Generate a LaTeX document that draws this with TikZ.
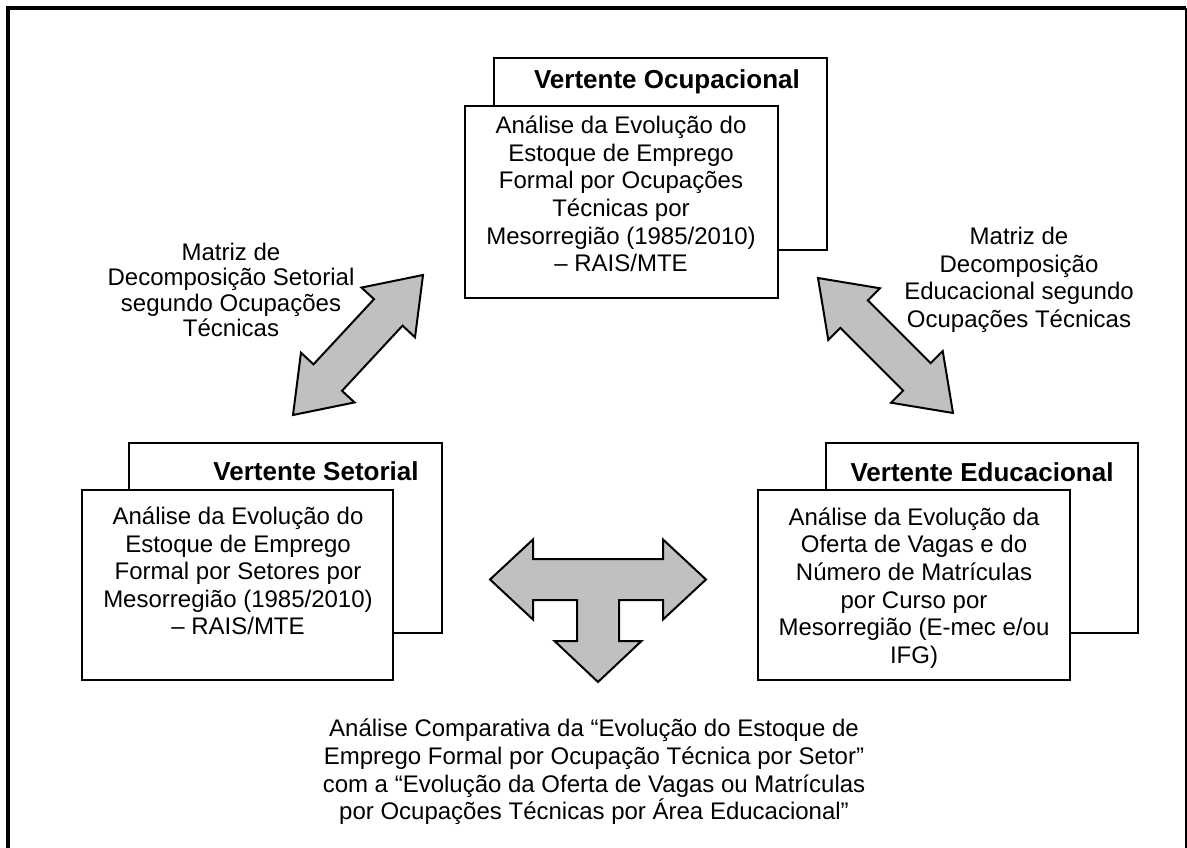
\documentclass[tikz,border=0pt]{standalone}
\usepackage{fontspec}
\setmainfont{Liberation Sans}
\usetikzlibrary{calc}
\definecolor{arrowgray}{HTML}{C0C0C0}
\tikzset{
  boxline/.style={draw=black, line width=1.5pt, fill=white, inner sep=0pt},
  bodytext/.style={align=center, font=\fontsize{18pt}{20.7pt}\selectfont, inner sep=0pt},
  labeltext/.style={align=center, font=\fontsize{18pt}{19.2pt}\selectfont, inner sep=0pt},
  headtext/.style={align=center, font=\bfseries\fontsize{19.5pt}{22pt}\selectfont, inner sep=0pt},
  blockarrow/.style={draw=black, line width=1.5pt, fill=arrowgray, line join=miter},
}
\newcommand{\dblarrow}[2]{%
  \draw[blockarrow] (#1)
    -- ($(#1)!38.3pt!(#2)!27.4pt!90:(#2)$)
    -- ($(#1)!38.3pt!(#2)!14.6pt!90:(#2)$)
    -- ($(#2)!38.3pt!(#1)!14.6pt!-90:(#1)$)
    -- ($(#2)!38.3pt!(#1)!27.4pt!-90:(#1)$)
    -- (#2)
    -- ($(#2)!38.3pt!(#1)!27.4pt!90:(#1)$)
    -- ($(#2)!38.3pt!(#1)!14.6pt!90:(#1)$)
    -- ($(#1)!38.3pt!(#2)!14.6pt!-90:(#2)$)
    -- ($(#1)!38.3pt!(#2)!27.4pt!-90:(#2)$)
    -- cycle;}
\begin{document}
\begin{tikzpicture}[x=0.75pt,y=-0.75pt]
\useasboundingbox (0,0) rectangle (1187,848);
% frame
\draw[line width=3pt] (8,852) -- (8,8) -- (1186,8);
\draw[line width=1pt] (1186,8) -- (1186,852);

% top group
\node[boxline, minimum width=333*0.75pt, minimum height=192*0.75pt] (ocB) at (660.5,154) {};
\node[headtext] (ocH) at (667,82) {Vertente Ocupacional};
\node[boxline, minimum width=313*0.75pt, minimum height=192*0.75pt] (ocF) at (621.5,202) {};
\node[bodytext] (ocT) at (621,194) {Análise da Evolução do\\Estoque de Emprego\\Formal por Ocupações\\Técnicas por\\Mesorregião (1985/2010)\\– RAIS/MTE};

% left group
\node[boxline, minimum width=313*0.75pt, minimum height=190*0.75pt] (seB) at (285.5,538) {};
\node[headtext] (seH) at (316,471) {Vertente Setorial};
\node[boxline, minimum width=311*0.75pt, minimum height=190*0.75pt] (seF) at (237.5,585) {};
\node[bodytext] (seT) at (238,571) {Análise da Evolução do\\Estoque de Emprego\\Formal por Setores por\\Mesorregião (1985/2010)\\– RAIS/MTE};

% right group
\node[boxline, minimum width=312*0.75pt, minimum height=190*0.75pt] (edB) at (982,538) {};
\node[headtext] (edH) at (982,472) {Vertente Educacional};
\node[boxline, minimum width=312*0.75pt, minimum height=190*0.75pt] (edF) at (914,585) {};
\node[bodytext] (edT) at (914,588) {Análise da Evolução da\\Oferta de Vagas e do\\Número de Matrículas\\por Curso por\\Mesorregião (E-mec e/ou\\IFG)};

% labels
\node[labeltext] (lbL) at (231,290) {Matriz de\\Decomposição Setorial\\segundo Ocupações\\Técnicas};
\node[bodytext] (lbR) at (1019,280) {Matriz de\\Decomposição\\Educacional segundo\\Ocupações Técnicas};

% double arrows
\coordinate (la1) at (293,415);
\coordinate (la2) at (423,275);
\coordinate (ra1) at (818,278);
\coordinate (ra2) at (953,413);
\dblarrow{la1}{la2}
\dblarrow{ra1}{ra2}

% T arrow
\coordinate (tc) at (598,579.5);
\draw[blockarrow, shift={(tc)}]
  (-108,0) -- (-65,-40) -- (-65,-20.5) -- (65,-20.5) -- (65,-40) -- (108,0)
  -- (65,40) -- (65,20.5) -- (21,20.5) -- (21,61.5) -- (43.5,61.5) -- (0,102.5)
  -- (-43.5,61.5) -- (-21,61.5) -- (-21,20.5) -- (-65,20.5) -- (-65,40) -- cycle;

% bottom text
\node[bodytext] (bot) at (594,772) {Análise Comparativa da “Evolução do Estoque de\\Emprego Formal por Ocupação Técnica por Setor”\\com a “Evolução da Oferta de Vagas ou Matrículas\\por Ocupações Técnicas por Área Educacional”};
\end{tikzpicture}
\end{document}
